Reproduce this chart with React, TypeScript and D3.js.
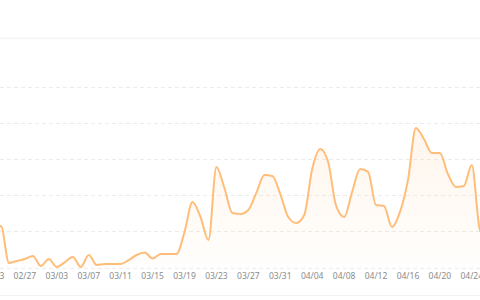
import React from "react";
import * as d3 from "d3";

const startDate = "2023-02-23";
const values: number[] = [
  9.7, 22.9, 2.5, 3.6, 4.7, 6.4, 0.8, 4.7, 0.3, 3.0,
  5.8, 0.3, 6.9, 1.4, 1.9, 1.9, 1.9, 4.1, 6.9, 8.3,
  5.0, 7.5, 7.5, 7.5, 19.6, 36.2, 27.9, 15.2, 55.5, 43.9,
  30.1, 29.6, 31.8, 41.2, 51.1, 50.6, 40.6, 27.9, 24.6, 29.0,
  54.4, 65.5, 58.3, 34.0, 27.9, 41.7, 54.4, 52.8, 34.5, 34.0,
  22.4, 30.7, 48.3, 77.1, 71.0, 63.3, 63.3, 51.7, 44.5, 45.0,
  56.6, 21.0, 15.0,
];
const yTicks = [0, 20, 40, 60, 80, 100];
const labelEvery = 4;

const W = 480;
const H = 300;

export default function App() {
  const parse = d3.timeParse("%Y-%m-%d");
  const start = parse(startDate) as Date;
  const data = values.map((v, i) => ({ date: d3.timeDay.offset(start, i), v }));

  const x = d3
    .scaleTime()
    .domain([start, d3.timeDay.offset(start, 1)])
    .range([-7, 0.98]);
  const y = d3.scaleLinear().domain([0, 100]).range([267.5, 86.5]);

  const line = d3
    .line<{ date: Date; v: number }>()
    .x((d) => x(d.date))
    .y((d) => y(d.v))
    .curve(d3.curveMonotoneX);
  const area = d3
    .area<{ date: Date; v: number }>()
    .x((d) => x(d.date))
    .y0(y(0))
    .y1((d) => y(d.v))
    .curve(d3.curveMonotoneX);

  const fmt = d3.timeFormat("%m/%d");
  const labels = data.filter((_, i) => i % labelEvery === 0);

  return (
    <svg
      width={W}
      height={H}
      style={{ position: "absolute", left: 0, top: 0, background: "#fff" }}
    >
      <defs>
        <linearGradient id="ag" x1="0" y1="0" x2="0" y2="1">
          <stop offset="0%" stopColor="#ffbd7a" stopOpacity={0.14} />
          <stop offset="100%" stopColor="#ffbd7a" stopOpacity={0.02} />
        </linearGradient>
      </defs>
      <line x1={0} x2={W} y1={38.5} y2={38.5} stroke="#f3f3f3" strokeWidth={1.5} />
      <line x1={0} x2={W} y1={295.5} y2={295.5} stroke="#f3f3f3" strokeWidth={1} />
      {yTicks.map((t) => (
        <line
          key={t}
          x1={0}
          x2={W}
          y1={Math.round(y(t)) + 0.5}
          y2={Math.round(y(t)) + 0.5}
          stroke="#ececec"
          strokeDasharray="4 3"
          strokeWidth={1}
        />
      ))}
      <path d={area(data) || ""} fill="url(#ag)" />
      <path
        d={line(data) || ""}
        fill="none"
        stroke="#ffbd7a"
        strokeWidth={2}
        strokeLinejoin="round"
      />
      {labels.map((d, i) => (
        <text
          key={i}
          x={x(d.date)}
          y={279}
          textAnchor="middle"
          fontFamily="'Noto Sans', sans-serif"
          fontSize={8.5}
          fill="#8c8c8c"
        >
          {fmt(d.date)}
        </text>
      ))}
    </svg>
  );
}
